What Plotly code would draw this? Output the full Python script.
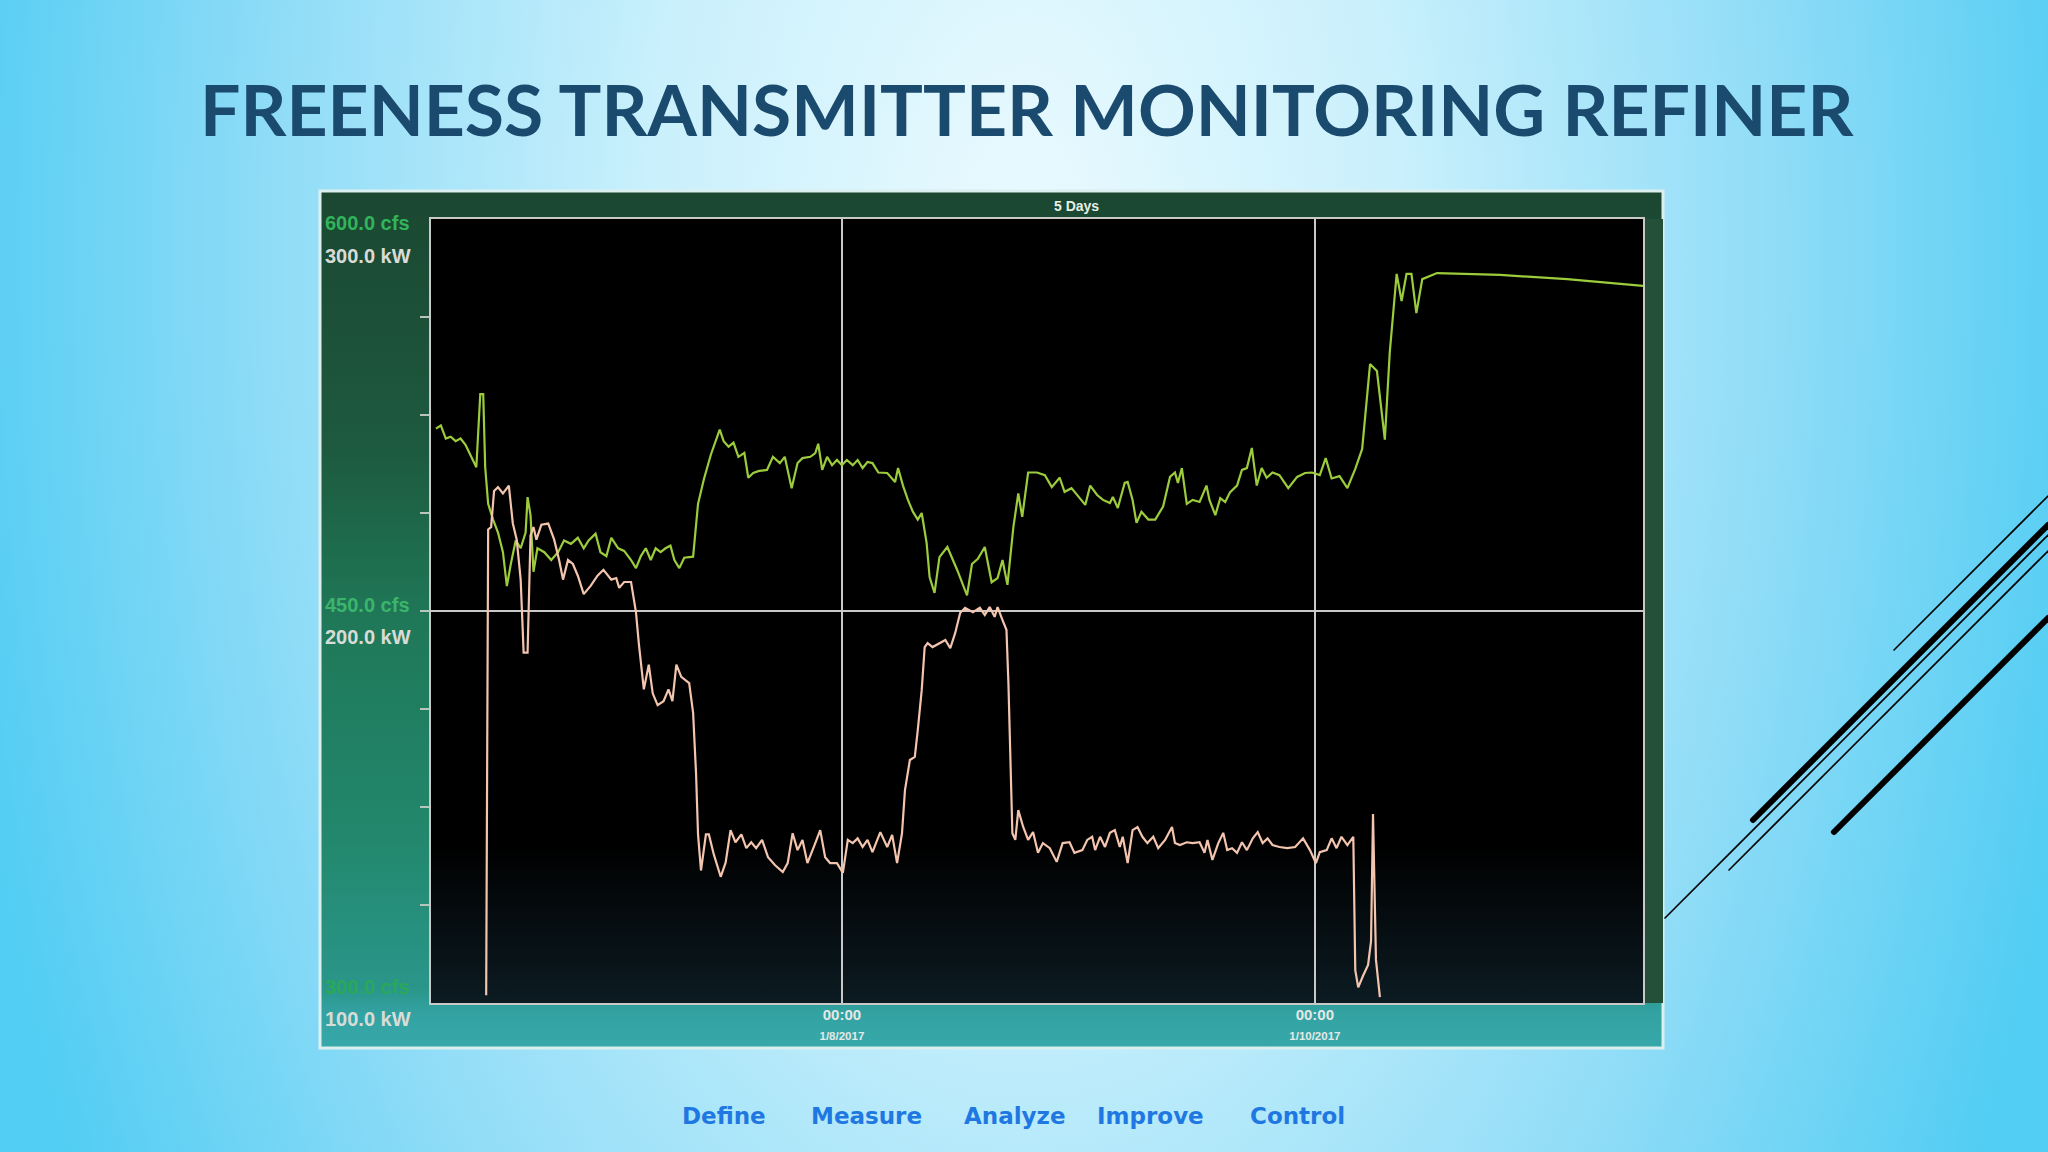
import base64
import pandas as pd
import plotly.graph_objects as go

# ---------------- data ----------------
# hours relative to 2017-01-08 00:00
green_hours = [-41.2, -40.7, -40.2, -39.7, -39.2, -38.7, -38.2, -37.6, -37.1, -36.7, -36.4, -36.2, -35.9, -35.4,
               -34.9, -34.4, -34.0, -33.6, -33.1, -32.6, -32.1, -31.9, -31.6, -31.3, -30.9, -30.2, -29.5, -28.8,
               -28.2, -27.5, -26.8, -26.2, -25.7, -25.0, -24.5, -23.9, -23.4, -22.7, -22.1, -21.4, -20.9, -20.4,
               -19.9, -19.4, -18.9, -18.4, -17.9, -17.4, -17.0, -16.5, -16.0, -15.1, -14.6, -14.0, -13.3, -12.4,
               -12.0, -11.5, -11.0, -10.5, -9.9, -9.5, -9.0, -8.4, -7.6, -7.0, -6.3, -5.8, -5.1, -4.5, -4.0, -3.2,
               -2.7, -2.4, -2.0, -1.5, -1.0, -0.5, 0.0, 0.5, 1.1, 1.6, 2.1, 2.6, 3.1, 3.7, 4.6, 5.4, 5.7, 6.2, 6.7,
               7.2, 7.7, 8.1, 8.6, 8.9, 9.4, 9.9, 10.7, 11.7, 12.7, 13.2, 13.8, 14.5, 15.2, 15.8, 16.3, 16.8, 17.4,
               17.9, 18.3, 18.9, 19.8, 20.6, 21.3, 22.1, 22.6, 23.3, 23.9, 24.7, 25.2, 25.9, 26.5, 27.2, 27.5, 28.0,
               28.7, 29.0, 29.5, 29.9, 30.4, 31.1, 31.8, 32.6, 33.3, 33.8, 34.1, 34.5, 35.0, 35.6, 36.3, 37.0, 37.3,
               37.9, 38.4, 38.9, 39.4, 40.1, 40.6, 41.1, 41.6, 42.1, 42.6, 43.1, 43.7, 44.4, 45.3, 46.2, 47.0, 47.7,
               48.5, 49.1, 49.7, 50.5, 51.3, 52.1, 52.8, 53.6, 54.3, 55.1, 55.6, 56.3, 56.8, 57.3, 57.8, 58.3, 58.9,
               59.5, 60.4, 66.8, 73.6, 81.3]
green_cfs = [519.8, 521, 516, 516.7, 515, 516, 513.6, 509, 505, 533, 533, 505, 491, 485,
             480, 472.5, 459.5, 468, 477, 474, 480, 493.6, 486.7, 465, 474, 472.5, 469.5, 472.5,
             477, 475.7, 478, 474, 477, 479.6, 472.5, 471, 478, 474, 473, 469.5, 466.4, 471,
             474, 469.5, 474, 472.5, 474, 475, 469.5, 466.4, 470.4, 470.8, 491, 500.5, 509.8, 519.4,
             515, 512.9, 514.4, 509, 510.5, 501, 502.8, 503.6, 504, 509, 506.6, 509, 497, 506.6, 508.5, 509,
             510.4, 514, 504, 509, 505.8, 507.8, 505.8, 507.8, 505.8, 507.8, 504.7, 507, 506.6, 503, 502.8, 499.4,
             504.7, 498, 492.5, 488, 485, 487.5, 476, 463, 456.9, 470.6, 474.5, 465.7, 456, 468, 470, 474.5, 461,
             462.6, 469.5, 460, 482, 495, 486, 503, 503, 502, 497.4, 501, 495.6, 497, 494.4, 490.6, 498, 494.4,
             492.5, 491.3, 493.6, 489.4, 499, 499.4, 492.5, 483.7, 488, 485, 485, 490, 501.3, 503, 499, 504.7,
             491, 492.5, 491.7, 498, 492.5, 486.7, 493.2, 491.7, 495.5, 498, 504, 504.7, 512.4, 498, 504.7, 501,
             503, 502, 497, 501.3, 502.8, 503, 502, 508.5, 500.7, 501.6, 497, 504.4, 512, 544.5, 541.8, 515.6,
             549, 579, 568.6, 579, 579, 564, 577, 578, 579.3, 578.6, 577, 574.4]

kw_hours = [-36.1, -35.9, -35.6, -35.3, -34.9, -34.4, -33.8, -33.4, -33.0, -32.6, -32.3, -31.9, -31.6, -31.3,
            -31.0, -30.5, -29.8, -29.2, -28.7, -28.3, -27.8, -27.3, -26.8, -26.2, -25.5, -24.8, -24.2, -23.4,
            -22.9, -22.6, -22.1, -21.4, -20.9, -20.6, -20.1, -19.6, -19.2, -18.7, -18.1, -17.6, -17.2, -16.8,
            -16.3, -15.5, -15.1, -14.8, -14.6, -14.3, -13.8, -13.5, -13.0, -12.3, -11.8, -11.3, -10.8, -10.2,
            -9.7, -9.2, -8.7, -8.1, -7.5, -6.8, -6.0, -5.5, -5.0, -4.5, -4.0, -3.5, -2.7, -2.2, -1.7, -1.2, -0.5,
            0.1, 0.6, 1.1, 1.6, 2.1, 2.6, 3.1, 3.9, 4.6, 5.1, 5.6, 6.1, 6.4, 6.9, 7.4, 7.7, 8.1, 8.4, 8.7, 9.2,
            9.9, 10.5, 11.0, 11.5, 12.0, 12.5, 13.3, 14.0, 14.5, 15.0, 15.5, 15.8, 16.3, 16.7, 16.9, 17.3, 17.6,
            17.9, 18.4, 18.9, 19.4, 19.9, 20.4, 21.1, 21.8, 22.4, 23.1, 23.6, 24.4, 24.9, 25.4, 25.7, 26.2, 26.7,
            27.2, 27.7, 28.2, 28.5, 29.0, 29.5, 30.0, 30.5, 31.0, 31.6, 32.1, 32.8, 33.5, 33.8, 34.3, 35.0, 35.6,
            36.3, 36.8, 37.1, 37.6, 38.2, 38.7, 39.1, 39.6, 40.1, 40.6, 41.1, 41.7, 42.2, 42.7, 43.2, 43.7, 44.4,
            45.2, 46.0, 46.8, 47.5, 48.1, 48.5, 49.2, 49.7, 50.2, 50.7, 51.3, 51.9, 52.1, 52.4, 52.9, 53.4, 53.7,
            53.9, 54.2, 54.6]
kw_values = [102, 220.8, 221.4, 230.6, 231.6, 230, 232, 222.4, 218.2, 208, 189.4, 189.4, 219.3, 221.4,
             218.2, 222, 222.3, 218.2, 213, 208, 213, 212, 209, 204.3, 206.4, 209, 210.5, 208,
             208.4, 205.9, 207.4, 207.4, 199.7, 191.5, 180, 186.3, 179, 176, 177, 180, 177, 186.3,
             183.2, 181.6, 174, 158.5, 143, 133.8, 143, 143, 137.9, 132.2, 135.8, 144.1, 141, 143,
             139.5, 141, 139.5, 141.6, 137.2, 135.2, 133.4, 135.7, 143.3, 139, 141.6, 135.7, 140.8, 144.1, 137.2,
             135.7, 135.7, 133.2, 141.6, 140.8, 142, 139.8, 141.6, 138.5, 143.6, 139.8, 142.9, 135.7, 143.3, 154.3,
             162, 162.8, 169.6, 179.8, 190.8, 191.8, 190.8, 191.8, 192.6, 190.5, 194.4, 199.5, 200.8, 199.7, 200.8,
             199, 201, 198.5, 201, 197.7, 195.2, 181.6, 143.3, 141.6, 149.2, 144.9, 141.6, 143.6, 138.3, 140.8,
             139.5, 136, 140.8, 141, 138.3, 139, 141.6, 142.4, 139, 142.4, 139.8, 143.4, 144.1, 139.8, 142.4,
             135.7, 144.1, 144.9, 142.4, 140.8, 142.4, 139.5, 141.6, 144.9, 140.8, 140.3, 141, 140.8, 141, 138.3,
             141.6, 136.5, 140.8, 143.4, 139, 139.5, 138.3, 141, 139, 142, 143.6, 140.8, 142, 140.3, 139.8, 139.5,
             139.8, 142, 139, 135.7, 138.5, 139, 142, 139.5, 142.4, 140.3, 142.4, 108.4, 104, 107, 109.7, 115.8,
             148.2, 111, 101.5]

base_time = pd.Timestamp("2017-01-08 00:00")
x_range = ["2017-01-06 06:18", "2017-01-11 09:18"]
cfs_range = [300, 600]
kw_range = [100, 300]
x_tick_vals = ["2017-01-08 00:00", "2017-01-10 00:00"]
x_tick_dates = ["1/8/2017", "1/10/2017"]
cfs_labels = [(600, "600.0 cfs"), (450, "450.0 cfs"), (300, "300.0 cfs")]
kw_labels = [(300, "300.0 kW"), (200, "200.0 kW"), (100, "100.0 kW")]
minor_cfs_ticks = [337.5, 375, 412.5, 487.5, 525, 562.5]
title_text = "FREENESS TRANSMITTER MONITORING REFINER"
footer_words = ["Define", "Measure", "Analyze", "Improve", "Control"]

green_t = base_time + pd.to_timedelta(green_hours, unit="h")
kw_t = base_time + pd.to_timedelta(kw_hours, unit="h")

# ---------------- geometry ----------------
W, H = 2048, 1152
def fx(p): return p / W
def fy(p): return 1 - p / H

PL, PR, PT, PB = 431, 1643, 219, 1003  # plot area in pixels

# ---------------- background / panel (decoration) ----------------
svg = f'''<svg xmlns="http://www.w3.org/2000/svg" width="{W}" height="{H}" viewBox="0 0 {W} {H}">
<defs>
<radialGradient id="bg" gradientUnits="userSpaceOnUse" cx="1024" cy="250" r="1080"
 gradientTransform="translate(1024 250) scale(1 1.8) translate(-1024 -250)">
<stop offset="0" stop-color="#eafafe"/><stop offset="0.35" stop-color="#c9f0fc"/>
<stop offset="0.7" stop-color="#8fdcf7"/><stop offset="1" stop-color="#52cdf3"/>
</radialGradient>
<linearGradient id="pg" x1="0" y1="0" x2="0" y2="1">
<stop offset="0" stop-color="#1b4731"/><stop offset="0.3" stop-color="#1d5a3f"/>
<stop offset="0.5" stop-color="#1f7858"/><stop offset="0.75" stop-color="#22876c"/>
<stop offset="0.93" stop-color="#2a968a"/><stop offset="0.96" stop-color="#33a2a2"/>
<stop offset="1" stop-color="#37a8aa"/>
</linearGradient>
<linearGradient id="tint" x1="0" y1="0" x2="0" y2="1">
<stop offset="0" stop-color="#000000"/><stop offset="0.82" stop-color="#000000"/>
<stop offset="1" stop-color="#0d1c24"/>
</linearGradient>
</defs>
<rect width="{W}" height="{H}" fill="url(#bg)"/>
<rect x="320" y="191" width="1343" height="857" fill="url(#pg)" stroke="#dcefef" stroke-width="3"/>
<rect x="1643" y="219" width="20" height="784" fill="#24503a"/>
<g stroke="#000" stroke-linecap="round">
<line x1="1665" y1="918" x2="2048" y2="535" stroke-width="1.6"/>
<line x1="1894" y1="650" x2="2048" y2="496" stroke-width="1.6"/>
<line x1="1753" y1="820" x2="2048" y2="525" stroke-width="6"/>
<line x1="1729" y1="870" x2="2048" y2="551" stroke-width="1.6"/>
<line x1="1834" y1="832" x2="2048" y2="618" stroke-width="6"/>
</g>
</svg>'''
svg_uri = "data:image/svg+xml;base64," + base64.b64encode(svg.encode()).decode()

# dark plot area with a faint bluish tint at the bottom (decoration)
tint_svg = '''<svg xmlns="http://www.w3.org/2000/svg" width="100" height="100" viewBox="0 0 100 100" preserveAspectRatio="none">
<defs><linearGradient id="t" x1="0" y1="0" x2="0" y2="1">
<stop offset="0" stop-color="#000000"/><stop offset="0.8" stop-color="#000000"/>
<stop offset="1" stop-color="#0c1b22"/></linearGradient></defs>
<rect width="100" height="100" fill="url(#t)"/></svg>'''
tint_uri = "data:image/svg+xml;base64," + base64.b64encode(tint_svg.encode()).decode()

fig = go.Figure()

fig.add_trace(go.Scatter(x=green_t, y=green_cfs, mode="lines", name="Freeness (cfs)",
                         line=dict(color="#9ccc3c", width=2.2), xaxis="x", yaxis="y",
                         hoverinfo="skip"))
fig.add_trace(go.Scatter(x=kw_t, y=kw_values, mode="lines", name="Refiner load (kW)",
                         line=dict(color="#f3c4ae", width=2.2), xaxis="x", yaxis="y2",
                         hoverinfo="skip"))

tick_text = [f"<b>00:00</b><br><span style='font-size:11.5px'><b>{d}</b></span>" for d in x_tick_dates]

annotations = []
label_font = "Liberation Sans, Arial, sans-serif"
cfs_shift = {600: -4, 450: 6, 300: 16}
kw_shift = {300: -37, 200: -26, 100: -16}
cfs_color = {600: "#31b45c", 450: "#3bb56c", 300: "#2aa85a"}
for v, t in cfs_labels:
    annotations.append(dict(x=fx(323), xref="paper", xanchor="left", y=v, yref="y", yanchor="middle",
                            yshift=cfs_shift[v], text=f"<b>{t}</b>", showarrow=False,
                            font=dict(family=label_font, size=20, color=cfs_color[v])))
for v, t in kw_labels:
    annotations.append(dict(x=fx(323), xref="paper", xanchor="left", y=v, yref="y2", yanchor="middle",
                            yshift=kw_shift[v], text=f"<b>{t}</b>", showarrow=False,
                            font=dict(family=label_font, size=20, color="#d9dcd6")))

annotations.append(dict(x=fx(1076), y=fy(206), xref="paper", yref="paper", text="<b>5 Days</b>",
                        showarrow=False, xanchor="center", yanchor="middle",
                        font=dict(family=label_font, size=14, color="#e6efe6")))

annotations.append(dict(x=fx(1027), y=fy(108), xref="paper", yref="paper", text=f"<b>{title_text}</b>",
                        showarrow=False, xanchor="center", yanchor="middle",
                        font=dict(family="Lato, sans-serif", size=71.5, color="#1a4a6e")))

footer_x = [724, 866, 1015, 1150, 1297]
for w, xc in zip(footer_words, footer_x):
    annotations.append(dict(x=fx(xc), y=fy(1116), xref="paper", yref="paper", text=f"<b>{w}</b>",
                            showarrow=False, xanchor="center", yanchor="middle",
                            font=dict(family="DejaVu Sans, sans-serif", size=23, color="#1f78e2")))

images = [
    dict(source=svg_uri, xref="paper", yref="paper", x=0, y=1, sizex=1, sizey=1,
         xanchor="left", yanchor="top", sizing="stretch", layer="below"),
    dict(source=tint_uri, xref="paper", yref="paper", x=fx(PL), y=fy(PT), sizex=fx(PR) - fx(PL),
         sizey=fy(PT) - fy(PB), xanchor="left", yanchor="top", sizing="stretch", layer="below"),
]

fig.update_layout(
    width=W, height=H,
    margin=dict(l=0, r=0, t=0, b=0),
    paper_bgcolor="#9fe2f8",
    plot_bgcolor="rgba(0,0,0,0)",
    showlegend=False,
    images=images,
    annotations=annotations,
    xaxis=dict(type="date", range=x_range, domain=[fx(PL), fx(PR)],
               tickvals=x_tick_vals, ticktext=tick_text, ticks="",
               tickfont=dict(family=label_font, size=15, color="#e4e9e6"),
               ticklabelstandoff=-3,
               showgrid=True, gridcolor="#c9c9c9", gridwidth=2,
               showline=True, mirror=True, linecolor="#c9c9c9", linewidth=2, zeroline=False),
    yaxis=dict(range=cfs_range, domain=[fy(PB), fy(PT)], tickvals=[450], showticklabels=False,
               ticks="outside", ticklen=9, tickcolor="#b8c4bc", tickwidth=2,
               showgrid=True, gridcolor="#c9c9c9", gridwidth=2,
               minor=dict(tickvals=minor_cfs_ticks, ticks="outside", ticklen=9, tickcolor="#b8c4bc",
                          tickwidth=2, showgrid=False),
               showline=True, mirror=True, linecolor="#c9c9c9", linewidth=2, zeroline=False),
    yaxis2=dict(range=kw_range, overlaying="y", visible=False),
)

fig.write_html("out.html", config={"displayModeBar": False},
               post_script="document.body.style.margin='0';document.body.style.overflow='hidden';")
